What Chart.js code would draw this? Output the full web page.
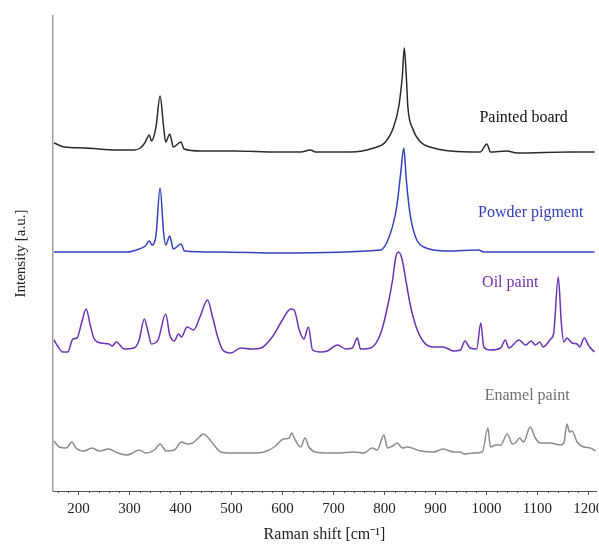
<!DOCTYPE html>
<html>
<head>
<meta charset="utf-8">
<script src="https://cdn.jsdelivr.net/npm/chart.js@4.4.1/dist/chart.umd.min.js"></script>
<style>
    html, body { margin: 0; padding: 0; background: #fff; }
    #wrap { width: 599px; height: 544px; }
</style>
</head>
<body>
<div id="wrap"><canvas id="ramanChart" width="599" height="544"></canvas></div>
<script>
// Raman shift tick labels
const majorTicks = [200, 300, 400, 500, 600, 700, 800, 900, 1000, 1100, 1200];

// spectra, [shift cm-1, intensity a.u. incl. stacking offset]
const paintedBoard = [
    [152, 348], [172, 344], [211, 343], [277, 341], [309, 341], [321, 343], [330, 348], [339, 356],
    [343, 350], [352, 364], [360, 395], [367, 364], [371, 349], [379, 357], [386, 344], [401, 349],
    [407, 342], [440, 340], [505, 340], [590, 339], [636, 339], [655, 341], [665, 339], [734, 339],
    [779, 343], [802, 349], [818, 364], [828, 384], [835, 414], [839, 443], [843, 414], [846, 384],
    [855, 363], [871, 349], [897, 343], [930, 340], [988, 339], [1001, 347], [1008, 339], [1040, 340],
    [1060, 338], [1165, 339], [1212, 339]
];

const powderPigment = [
    [152, 239], [296, 239], [319, 242], [331, 245], [339, 250], [344, 246], [352, 256], [360, 303],
    [367, 258], [371, 246], [379, 255], [386, 242], [401, 247], [408, 240], [473, 239], [597, 238],
    [792, 241], [812, 258], [824, 284], [832, 318], [838, 343], [843, 311], [850, 278], [861, 254],
    [877, 244], [923, 240], [985, 241], [995, 239], [1119, 239], [1171, 239], [1212, 239]
];

const oilPaint = [
    [152, 151], [159, 145], [169, 139], [179, 139], [189, 152], [197, 153], [206, 168], [215, 182],
    [223, 166], [231, 152], [244, 148], [260, 147], [266, 145], [274, 149], [290, 142], [309, 143],
    [319, 151], [329, 172], [337, 158], [343, 147], [356, 151], [371, 177], [379, 156], [388, 150],
    [396, 157], [402, 154], [413, 164], [426, 161], [439, 175], [453, 191], [463, 174], [473, 154],
    [483, 141], [499, 138], [518, 143], [538, 142], [558, 143], [580, 154], [600, 171], [616, 182],
    [623, 181], [633, 161], [642, 152], [651, 164], [659, 141], [675, 139], [688, 140], [708, 146],
    [724, 142], [737, 143], [747, 153], [753, 142], [773, 143], [793, 158], [806, 184], [816, 211],
    [822, 233], [827, 239], [834, 233], [842, 211], [850, 188], [861, 166], [877, 149], [897, 144],
    [915, 144], [936, 140], [949, 141], [958, 150], [968, 143], [981, 142], [989, 168], [995, 144],
    [1008, 141], [1028, 143], [1037, 151], [1044, 143], [1064, 151], [1077, 146], [1088, 150], [1096, 146],
    [1105, 149], [1111, 144], [1126, 152], [1132, 158], [1141, 214], [1147, 168], [1152, 149], [1158, 153],
    [1168, 148], [1178, 147], [1183, 144], [1192, 153], [1201, 145], [1212, 139]
];

const enamelPaint = [
    [152, 50], [162, 44], [176, 43], [187, 49], [195, 43], [211, 40], [226, 43], [241, 40],
    [259, 42], [277, 38], [296, 36], [306, 38], [319, 41], [332, 38], [349, 41], [360, 47],
    [372, 40], [388, 41], [402, 49], [413, 47], [424, 48], [437, 54], [445, 57], [453, 54],
    [466, 46], [479, 39], [499, 38], [518, 38], [544, 38], [564, 39], [584, 44], [602, 52],
    [613, 53], [618, 58], [625, 51], [636, 44], [644, 53], [652, 44], [665, 39], [691, 38],
    [708, 38], [740, 39], [760, 38], [776, 43], [786, 41], [799, 56], [806, 43], [816, 45],
    [825, 48], [835, 43], [845, 44], [871, 40], [897, 39], [915, 42], [936, 39], [949, 39],
    [956, 37], [975, 38], [992, 39], [1003, 63], [1008, 44], [1018, 46], [1028, 46], [1041, 57],
    [1051, 47], [1057, 48], [1065, 53], [1073, 49], [1086, 64], [1096, 53], [1106, 48], [1126, 48],
    [1145, 46], [1152, 48], [1158, 67], [1163, 59], [1168, 60], [1178, 49], [1191, 44], [1204, 43],
    [1214, 40]
];

const seriesNames = ['Painted board', 'Powder pigment', 'Oil paint', 'Enamel paint'];
const seriesData = [paintedBoard, powderPigment, oilPaint, enamelPaint];
const lineColors = ['#2b2b2b', '#3343c0', '#6a32b4', '#8c8c8c'];
const textColors = ['#111111', '#3040b8', '#7030a8', '#707070'];

// where the name of each trace sits, in axis units
const labelAnchors = [
    { x: 1073, y: 373 },
    { x: 1087, y: 278 },
    { x: 1047, y: 208 },
    { x: 1080, y: 95 }
];

const serif = '"Liberation Serif", "Times New Roman", serif';

const extrasPlugin = {
    id: 'extras',
    afterDraw(chart) {
        const { ctx, scales: { x, y } } = chart;
        ctx.save();
        // minor ticks every 20 cm-1
        ctx.strokeStyle = '#555';
        ctx.lineWidth = 1;
        for (let v = 160; v <= x.max; v += 20) {
            if (v % 100 === 0) continue;
            const px = Math.round(x.getPixelForValue(v)) + 0.5;
            ctx.beginPath();
            ctx.moveTo(px, x.top);
            ctx.lineTo(px, x.top + 2);
            ctx.stroke();
        }
        // trace names
        ctx.font = '16px ' + serif;
        ctx.textAlign = 'center';
        ctx.textBaseline = 'middle';
        labelAnchors.forEach((a, i) => {
            ctx.fillStyle = textColors[i];
            ctx.fillText(seriesNames[i], x.getPixelForValue(a.x), y.getPixelForValue(a.y));
        });
        ctx.restore();
    }
};

new Chart(document.getElementById('ramanChart'), {
    type: 'line',
    data: {
        datasets: seriesData.map((d, i) => ({
            label: seriesNames[i],
            data: d.map(p => ({ x: p[0], y: p[1] })),
            borderColor: lineColors[i],
            borderWidth: 1.5,
            pointRadius: 0,
            cubicInterpolationMode: 'monotone',
            fill: false
        }))
    },
    options: {
        responsive: false,
        animation: false,
        layout: { padding: { top: 16, right: 3, left: 0, bottom: 0 } },
        plugins: {
            legend: { display: false },
            tooltip: { enabled: false }
        },
        scales: {
            x: {
                type: 'linear',
                min: 150,
                max: 1215,
                afterBuildTicks: scale => {
                    scale.ticks = majorTicks.map(v => ({ value: v }));
                },
                afterFit: scale => {
                    scale.height = 53;
                    scale.paddingLeft = 0;
                    scale.paddingRight = 0;
                },
                grid: { drawOnChartArea: false, drawTicks: true, tickLength: 4, color: '#555' },
                border: { color: '#555', width: 1 },
                ticks: {
                    color: '#222',
                    padding: 5,
                    maxRotation: 0,
                    autoSkip: false,
                    callback: value => String(value),
                    font: { family: serif, size: 15 }
                },
                title: {
                    display: true,
                    text: 'Raman shift [cm\u207B\u00B9]',
                    color: '#222',
                    padding: { top: 0, bottom: 0 },
                    font: { family: serif, size: 16 }
                }
            },
            y: {
                min: 0,
                max: 475,
                afterFit: scale => {
                    scale.width = 53;
                },
                grid: { display: false },
                border: { color: '#a0a0a0', width: 1.5 },
                ticks: { display: false },
                title: {
                    display: true,
                    text: 'Intensity [a.u.]',
                    color: '#222',
                    padding: { top: 12, bottom: 0 },
                    font: { family: serif, size: 15 }
                }
            }
        }
    },
    plugins: [extrasPlugin]
});
</script>
</body>
</html>
